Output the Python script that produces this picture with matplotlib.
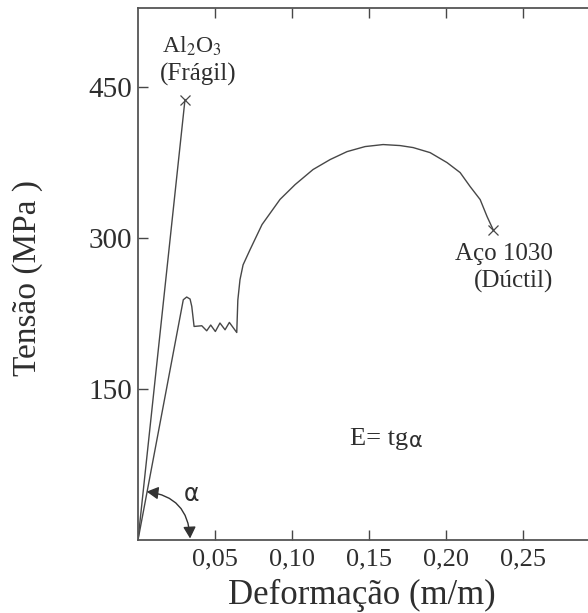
import matplotlib
matplotlib.use('Agg')
import matplotlib.pyplot as plt

plt.rcParams['font.family'] = ['Liberation Serif', 'DejaVu Serif']
plt.rcParams['mathtext.fontset'] = 'stix'

# values
al2o3_strain = [0.0, 0.0305]
al2o3_stress = [0.0, 437.0]

steel_strain = [0.0, 0.0294, 0.0316, 0.0338, 0.0349, 0.0364, 0.0414, 0.0446, 0.0472,
                0.0502, 0.0532, 0.0565, 0.0593, 0.0641, 0.0648, 0.0662, 0.0682, 0.0727,
                0.0805, 0.0922, 0.1020, 0.1136, 0.1247, 0.1357, 0.1474, 0.1591, 0.1701,
                0.1786, 0.1896, 0.2006, 0.2091, 0.2156, 0.2221, 0.2266, 0.2305]
steel_stress = [0.0, 238.4, 241.1, 239.1, 231.8, 211.9, 212.6, 207.6, 213.3,
                206.9, 215.3, 208.6, 215.9, 205.9, 238.0, 258.3, 273.0, 288.0,
                313.0, 338.0, 352.7, 367.6, 377.5, 385.4, 390.4, 392.4, 391.4,
                389.4, 384.4, 374.5, 364.6, 350.7, 337.8, 320.9, 308.0]

x_ticks = [0.05, 0.10, 0.15, 0.20, 0.25]
x_tick_labels = ['0,05', '0,10', '0,15', '0,20', '0,25']
y_ticks = [150, 300, 450]

line_c = '#474747'
text_c = '#2e2e2e'

fig = plt.figure(figsize=(5.88, 6.13), dpi=100)
ax = fig.add_axes([0.2347, 0.1191, 0.786, 0.868])

ax.plot(al2o3_strain, al2o3_stress, color=line_c, lw=1.0)
ax.plot(steel_strain, steel_stress, color=line_c, lw=1.0)
ax.plot(al2o3_strain[-1], al2o3_stress[-1], marker='x', color=line_c, ms=7, mew=0.9)
ax.plot(steel_strain[-1], steel_stress[-1], marker='x', color=line_c, ms=7, mew=0.9)

ax.set_xlim(0, 0.3)
ax.set_ylim(0, 528)
ax.set_xticks(x_ticks)
ax.set_xticklabels(x_tick_labels, fontsize=19, color=text_c)
ax.set_yticks(y_ticks)
ax.set_yticklabels([str(v) for v in y_ticks], fontsize=21, color=text_c)
ax.tick_params(axis='x', direction='in', length=7, width=1.0, color=line_c,
               top=True, pad=6)
ax.tick_params(axis='y', direction='in', length=7, width=1.0, color=line_c, pad=4)
ax.spines['right'].set_visible(False)
for s in ['left', 'bottom', 'top']:
    ax.spines[s].set_color('#555555')
    ax.spines[s].set_linewidth(1.3)

ax.set_xlabel('Deformação (m/m)', fontsize=25, color=text_c)
ax.xaxis.label.set_va('baseline')
ax.xaxis.set_label_coords(0.485, -0.1203)
ax.set_ylabel('Tensão (MPa )', fontsize=24, color=text_c)
ax.yaxis.set_label_coords(-0.2056, 0.4925)

ax.text(0.035, 484, 'Al$_2$O$_3$', fontsize=17, ha='center', va='baseline', color=text_c)
ax.text(0.039, 456, '(Frágil)', fontsize=18, ha='center', va='baseline', color=text_c)
ax.text(0.2695, 278, 'Aço 1030', fontsize=18, ha='right', va='baseline', color=text_c)
ax.text(0.2695, 250, '(Dúctil)', fontsize=18, ha='right', va='baseline', color=text_c)

ax.text(0.1753, 94, 'E= tg', fontsize=19, ha='right', va='baseline', color=text_c)
ax.text(0.1756, 92, 'α', fontsize=15, ha='left', va='baseline', color=text_c,
        family='DejaVu Sans')

ax.annotate('', xy=(0.0056, 48), xytext=(0.0338, 1.5),
            arrowprops=dict(arrowstyle='<|-|>,head_length=0.7,head_width=0.38',
                            connectionstyle='arc3,rad=0.42', color='#333333',
                            lw=1.0, shrinkA=0, shrinkB=0))
ax.text(0.0349, 46, 'α', fontsize=17, ha='center', va='center', color=text_c,
        family='DejaVu Sans')

fig.savefig('out.png', dpi=100)
